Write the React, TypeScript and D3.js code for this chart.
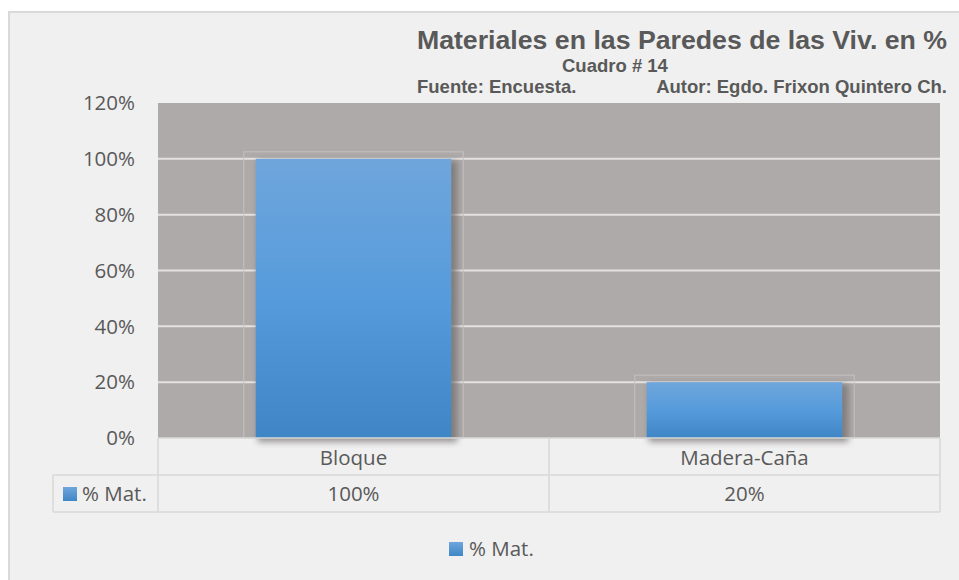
import React from "react";
import * as d3 from "d3";

const categories = ["Bloque", "Madera-Caña"];
const values = [100, 20];
const valueLabels = ["100%", "20%"];
const seriesName = "% Mat.";
const yTicks = [0, 20, 40, 60, 80, 100, 120];

const W = 959;
const H = 580;
const plot = { left: 158, right: 940, top: 103, bottom: 438 };
const textColor = "#595959";
const gridColor = "#d9d9d9";
const bodyFont = "'Open Sans', 'Noto Sans', sans-serif";
const titleFont = "'Liberation Sans', Arial, sans-serif";
const bodySize = 20.5;

export default function App() {
  const x = d3
    .scaleBand<string>()
    .domain(categories)
    .range([plot.left, plot.right])
    .paddingInner(0.5)
    .paddingOuter(0.25);
  const band = d3.scaleBand<string>().domain(categories).range([plot.left, plot.right]);
  const y = d3.scaleLinear().domain([0, 120]).range([plot.bottom, plot.top]);
  const row1 = plot.bottom;
  const row2 = 475;
  const row3 = 512;
  const tableLeft = 53;

  return (
    <svg
      width={W}
      height={H}
      style={{ position: "absolute", left: 0, top: 0, display: "block" }}
    >
      <defs>
        <linearGradient id="barGrad" x1="0" y1="0" x2="0" y2="1">
          <stop offset="0%" stopColor="#6fa6dc" />
          <stop offset="50%" stopColor="#569bdb" />
          <stop offset="100%" stopColor="#3f86c6" />
        </linearGradient>
        <linearGradient id="legGrad" x1="0" y1="0" x2="0" y2="1">
          <stop offset="0%" stopColor="#6fa6dc" />
          <stop offset="100%" stopColor="#3f86c6" />
        </linearGradient>
        <filter id="shadow" x="-20%" y="-20%" width="140%" height="140%">
          <feGaussianBlur stdDeviation="3" />
        </filter>
      </defs>
      <rect x={0} y={0} width={W} height={H} fill="#ffffff" />
      <rect x={9} y={12} width={W + 10} height={H + 10} fill="#f0f0f0" stroke="#d9d9d9" strokeWidth={2} />

      {/* Title */}
      <text x={947} y={49} textAnchor="end" fontFamily={titleFont} fontWeight="bold" fontSize={26.7} fill={textColor}>
        Materiales en las Paredes de las Viv. en %
      </text>
      <text x={562} y={72} fontFamily={titleFont} fontWeight="bold" fontSize={18.5} fill={textColor}>
        Cuadro # 14
      </text>
      <text x={417} y={93} fontFamily={titleFont} fontWeight="bold" fontSize={18.5} fill={textColor}>
        Fuente: Encuesta.
      </text>
      <text x={947} y={93} textAnchor="end" fontFamily={titleFont} fontWeight="bold" fontSize={18.5} fill={textColor}>
        Autor: Egdo. Frixon Quintero Ch.
      </text>

      {/* Plot area */}
      <rect x={plot.left} y={plot.top} width={plot.right - plot.left} height={plot.bottom - plot.top} fill="#aeaaa9" />
      {yTicks.map((t) => (
        <g key={t}>
          {t > 0 && t < 120 && (
            <line x1={plot.left} x2={plot.right} y1={y(t)} y2={y(t)} stroke="#e4e2e1" strokeWidth={2} />
          )}
          <text x={135} y={y(t)} dy="0.35em" textAnchor="end" fontFamily={bodyFont} fontSize={bodySize} fill={textColor}>
            {t}%
          </text>
        </g>
      ))}

      {/* Bars */}
      {categories.map((c, i) => {
        const bx = x(c)!;
        const bw = x.bandwidth();
        const top = y(values[i]);
        return (
          <g key={c}>
            <rect
              x={bx - 12}
              y={top - 7}
              width={bw + 24}
              height={plot.bottom - top + 7}
              fill="none"
              stroke="#c4c1c0"
              strokeWidth={1}
            />
            <rect
              x={bx + 2}
              y={top + 2}
              width={bw + 4}
              height={plot.bottom - top + 2}
              fill="#6e6a69"
              opacity={0.7}
              filter="url(#shadow)"
            />
            <rect x={bx} y={top} width={bw} height={plot.bottom - top} fill="url(#barGrad)" />
          </g>
        );
      })}

      {/* Data table */}
      <g stroke={gridColor} strokeWidth={1.5} fill="none">
        <line x1={plot.left} x2={plot.right} y1={row1} y2={row1} />
        <line x1={tableLeft} x2={plot.right} y1={row2} y2={row2} />
        <line x1={tableLeft} x2={plot.right} y1={row3} y2={row3} />
        <line x1={tableLeft} x2={tableLeft} y1={row2} y2={row3} />
        <line x1={plot.left} x2={plot.left} y1={row1} y2={row3} />
        {categories.map((c) => (
          <line key={c} x1={band(c)! + band.bandwidth()} x2={band(c)! + band.bandwidth()} y1={row1} y2={row3} />
        ))}
      </g>
      {categories.map((c, i) => (
        <g key={c}>
          <text
            x={band(c)! + band.bandwidth() / 2}
            y={(row1 + row2) / 2 + 1}
            dy="0.35em"
            textAnchor="middle"
            fontFamily={bodyFont}
            fontSize={bodySize}
            fill={textColor}
          >
            {c}
          </text>
          <text
            x={band(c)! + band.bandwidth() / 2}
            y={(row2 + row3) / 2}
            dy="0.35em"
            textAnchor="middle"
            fontFamily={bodyFont}
            fontSize={bodySize}
            fill={textColor}
          >
            {valueLabels[i]}
          </text>
        </g>
      ))}
      <rect x={63} y={487} width={14} height={14} fill="url(#legGrad)" />
      <text x={82} y={(row2 + row3) / 2} dy="0.35em" fontFamily={bodyFont} fontSize={bodySize} fill={textColor}>
        {seriesName}
      </text>

      {/* Legend */}
      <rect x={449} y={542} width={14} height={14} fill="url(#legGrad)" />
      <text x={469} y={549} dy="0.35em" fontFamily={bodyFont} fontSize={bodySize} fill={textColor}>
        {seriesName}
      </text>
    </svg>
  );
}
